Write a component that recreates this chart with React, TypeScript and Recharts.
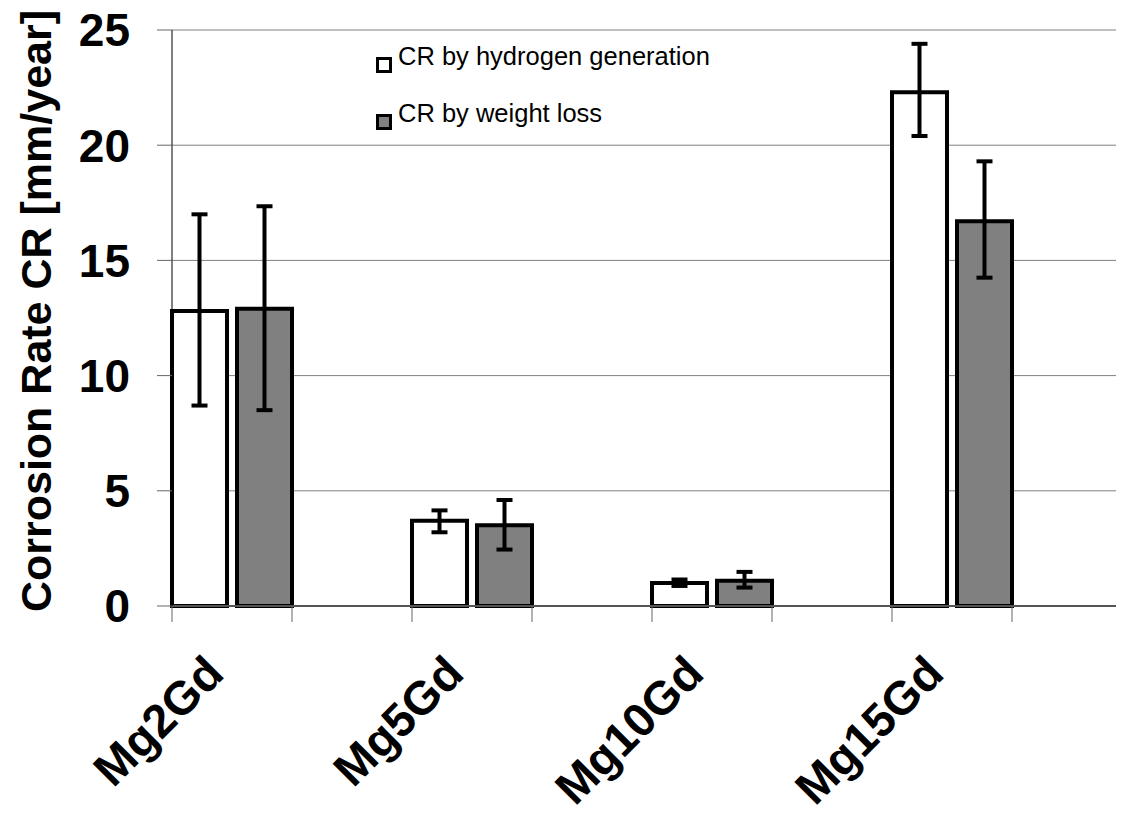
import React from "react";
import { BarChart, Bar, XAxis, YAxis, CartesianGrid, ErrorBar, Legend, Label } from "recharts";

// 8 slots on the axis: every alloy is followed by an empty slot
const categories = ["Mg2Gd", "", "Mg5Gd", "", "Mg10Gd", "", "Mg15Gd", ""];

// CR by hydrogen generation [mm/year]
const hydrogen = [12.8, null, 3.7, null, 1.0, null, 22.3, null];
const hydrogenLow = [8.7, null, 3.2, null, 0.87, null, 20.4, null];
const hydrogenHigh = [17.0, null, 4.15, null, 1.15, null, 24.4, null];

// CR by weight loss [mm/year]
const weight = [12.9, null, 3.5, null, 1.1, null, 16.7, null];
const weightLow = [8.5, null, 2.45, null, 0.8, null, 14.25, null];
const weightHigh = [17.35, null, 4.6, null, 1.48, null, 19.3, null];

const yTicks = [0, 5, 10, 15, 20, 25];

const seriesNames = ["CR by hydrogen generation", "CR by weight loss"];

const errOf = (v: number | null, lo: number | null, hi: number | null) =>
  v == null || lo == null || hi == null ? undefined : [v - lo, hi - v];

const data = categories.map((name, i) => ({
  name,
  hydrogen: hydrogen[i],
  hydrogenErr: errOf(hydrogen[i], hydrogenLow[i], hydrogenHigh[i]),
  weight: weight[i],
  weightErr: errOf(weight[i], weightLow[i], weightHigh[i]),
}));

const FONT = "'Liberation Sans', Arial, sans-serif";

const CategoryTick = (props: any) => {
  const { x, y, payload } = props;
  const half = payload && payload.offset != null ? payload.offset : 60;
  const ax = x - 6;
  const ay = y + 70;
  return (
    <g>
      <line x1={x - half} y1={y} x2={x - half} y2={y + 16} stroke="#666" strokeWidth={1} />
      {payload.value ? (
        <text
          x={ax}
          y={ay}
          transform={`rotate(-45, ${ax}, ${ay})`}
          textAnchor="end"
          fontFamily={FONT}
          fontWeight="bold"
          fontSize={47}
          fill="#000"
        >
          {payload.value}
        </text>
      ) : null}
    </g>
  );
};

const LegendBox = () => (
  <div style={{ fontFamily: FONT, fontSize: 25.5, color: "#000" }}>
    {seriesNames.map((n, i) => (
      <div key={n} style={{ display: "flex", alignItems: "center", height: 29, marginBottom: 28 }}>
        <span
          style={{
            display: "inline-block",
            boxSizing: "border-box",
            width: 16,
            height: 16,
            border: "3px solid #000",
            background: i === 0 ? "#fff" : "#808080",
            position: "relative",
            top: 8,
            marginRight: 6,
          }}
        />
        <span style={{ lineHeight: "29px", whiteSpace: "nowrap" }}>{n}</span>
      </div>
    ))}
  </div>
);

const App = () => (
  <div style={{ margin: -8, width: 1124, height: 824, overflow: "hidden", background: "#fff", position: "relative" }}>
    <BarChart
      width={1140}
      height={824}
      data={data}
      margin={{ top: 30, right: 8, bottom: 0, left: 0 }}
      barCategoryGap={0}
      barGap={10}
    >
      <CartesianGrid horizontal vertical={false} stroke="#808080" strokeWidth={1} />
      <XAxis
        dataKey="name"
        height={218}
        axisLine={{ stroke: "#555", strokeWidth: 2 }}
        tickLine={false}
        tickSize={0}
        tickMargin={0}
        interval={0}
        tick={<CategoryTick />}
      />
      <YAxis
        width={172}
        domain={[0, 25]}
        ticks={yTicks}
        interval={0}
        axisLine={{ stroke: "#000", strokeWidth: 1 }}
        tickLine={{ stroke: "#666", strokeWidth: 1 }}
        tickSize={15}
        tickMargin={27}
        tick={{ fontFamily: FONT, fontWeight: "bold", fontSize: 46, fill: "#000" }}
      >
        <Label
          value="Corrosion Rate CR [mm/year]"
          content={(p: any) => {
            const vb = p.viewBox || { y: 30, height: 576 };
            const cy = vb.y + vb.height / 2 - 7;
            return (
              <text
                x={51}
                y={cy}
                transform={`rotate(-90, 51, ${cy})`}
                textAnchor="middle"
                fontFamily={FONT}
                fontWeight="bold"
                fontSize={43}
                fill="#000"
              >
                Corrosion Rate CR [mm/year]
              </text>
            );
          }}
        />
      </YAxis>
      <Legend
        layout="horizontal"
        verticalAlign="middle"
        align="center"
        content={() => <LegendBox />}
        wrapperStyle={{ position: "absolute", left: 376, top: 42, width: 420, height: 120 }}
      />
      <Bar dataKey="hydrogen" name={seriesNames[0]} fill="#fff" stroke="#000" strokeWidth={4} isAnimationActive={false}>
        <ErrorBar dataKey="hydrogenErr" width={8} stroke="#000" strokeWidth={4} isAnimationActive={false} />
      </Bar>
      <Bar dataKey="weight" name={seriesNames[1]} fill="#808080" stroke="#000" strokeWidth={4} isAnimationActive={false}>
        <ErrorBar dataKey="weightErr" width={8} stroke="#000" strokeWidth={4} isAnimationActive={false} />
      </Bar>
    </BarChart>
  </div>
);

export default App;
